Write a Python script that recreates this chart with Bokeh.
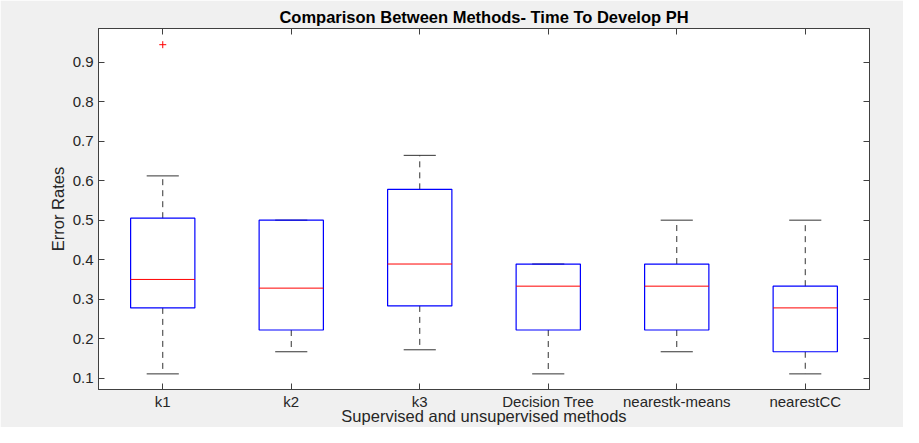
from bokeh.plotting import figure
from bokeh.models import LinearAxis, FixedTicker, Range1d
from bokeh.embed import file_html
from bokeh.resources import INLINE

methods = ["k1", "k2", "k3", "Decision Tree", "nearestk-means", "nearestCC"]
lower_whisker = [0.111, 0.167, 0.172, 0.111, 0.167, 0.111]
q1 = [0.278, 0.222, 0.283, 0.222, 0.222, 0.167]
median = [0.350, 0.328, 0.389, 0.333, 0.333, 0.278]
q3 = [0.505, 0.500, 0.578, 0.389, 0.389, 0.333]
upper_whisker = [0.612, 0.500, 0.664, 0.389, 0.500, 0.500]
outlier_method = ["k1"]
outlier_value = [0.944]
y_ticks = [0.1, 0.2, 0.3, 0.4, 0.5, 0.6, 0.7, 0.8, 0.9]

FONT = "Liberation Sans"
AX = "#404040"
TXT = "#262626"

pos = [i + 1 for i in range(len(methods))]
box_w = 0.5
cap_w = 0.25

p = figure(width=903, height=427, output_backend="svg", toolbar_location=None,
           x_range=Range1d(0.5, 6.5), y_range=Range1d(0.0715, 0.985),
           min_border_left=98, min_border_right=34, min_border_top=28, min_border_bottom=37,
           background_fill_color="white", border_fill_color="#f0f0f0")
p.grid.visible = False
p.outline_line_color = AX

p.title.text = "Comparison Between Methods- Time To Develop PH"
p.title.align = "center"
p.title.text_font = FONT
p.title.text_font_size = "16.5px"
p.title.text_font_style = "bold"
p.title.text_color = "#000000"
p.title.text_line_height = 0.6
p.title.standoff = 6

xt = FixedTicker(ticks=pos)
yt = FixedTicker(ticks=y_ticks)

def style(ax, labels=True):
    ax.major_tick_in = 6
    ax.major_tick_out = 0
    ax.minor_tick_in = 0
    ax.minor_tick_out = 0
    ax.axis_line_color = AX
    ax.major_tick_line_color = AX
    ax.major_label_text_font = FONT
    ax.major_label_text_font_size = "15px"
    ax.major_label_text_color = TXT
    ax.axis_label_text_font = FONT
    ax.axis_label_text_font_size = "16.5px"
    ax.axis_label_text_font_style = "normal"
    ax.axis_label_text_color = TXT
    if not labels:
        ax.major_label_text_font_size = "0px"
        ax.major_label_standoff = 0

xa = p.xaxis[0]
xa.ticker = xt
xa.major_label_overrides = {x: m for x, m in zip(pos, methods)}
xa.axis_label = "Supervised and unsupervised methods"
style(xa)
xa.major_label_standoff = 3
xa.axis_label_standoff = -6

ya = p.yaxis[0]
ya.ticker = yt
ya.axis_label = "Error Rates"
style(ya)
ya.major_label_standoff = 5
ya.axis_label_standoff = 3

top = LinearAxis(ticker=xt)
style(top, labels=False)
top.major_label_overrides = {x: "" for x in pos}
p.add_layout(top, "above")
right = LinearAxis(ticker=yt)
style(right, labels=False)
right.major_label_overrides = {y: "" for y in y_ticks}
p.add_layout(right, "right")

# whiskers (dashed)
p.segment(x0=pos, y0=q3, x1=pos, y1=upper_whisker, line_color="#333333", line_width=1, line_dash="6 5")
p.segment(x0=pos, y0=q1, x1=pos, y1=lower_whisker, line_color="#333333", line_width=1, line_dash="6 5")
# caps
p.segment(x0=[x - cap_w / 2 for x in pos], y0=upper_whisker, x1=[x + cap_w / 2 for x in pos], y1=upper_whisker,
          line_color="#333333", line_width=1)
p.segment(x0=[x - cap_w / 2 for x in pos], y0=lower_whisker, x1=[x + cap_w / 2 for x in pos], y1=lower_whisker,
          line_color="#333333", line_width=1)
# boxes
p.quad(left=[x - box_w / 2 for x in pos], right=[x + box_w / 2 for x in pos], bottom=q1, top=q3,
       fill_color=None, line_color="#0000ff", line_width=1.2)
# medians
p.segment(x0=[x - box_w / 2 for x in pos], y0=median, x1=[x + box_w / 2 for x in pos], y1=median,
          line_color="#ff0000", line_width=1)
# outliers
p.scatter(x=[pos[methods.index(m)] for m in outlier_method], y=outlier_value, marker="cross",
          size=7, line_color="#ff0000", line_width=1)

open("out.html", "w").write(file_html(p, INLINE))
